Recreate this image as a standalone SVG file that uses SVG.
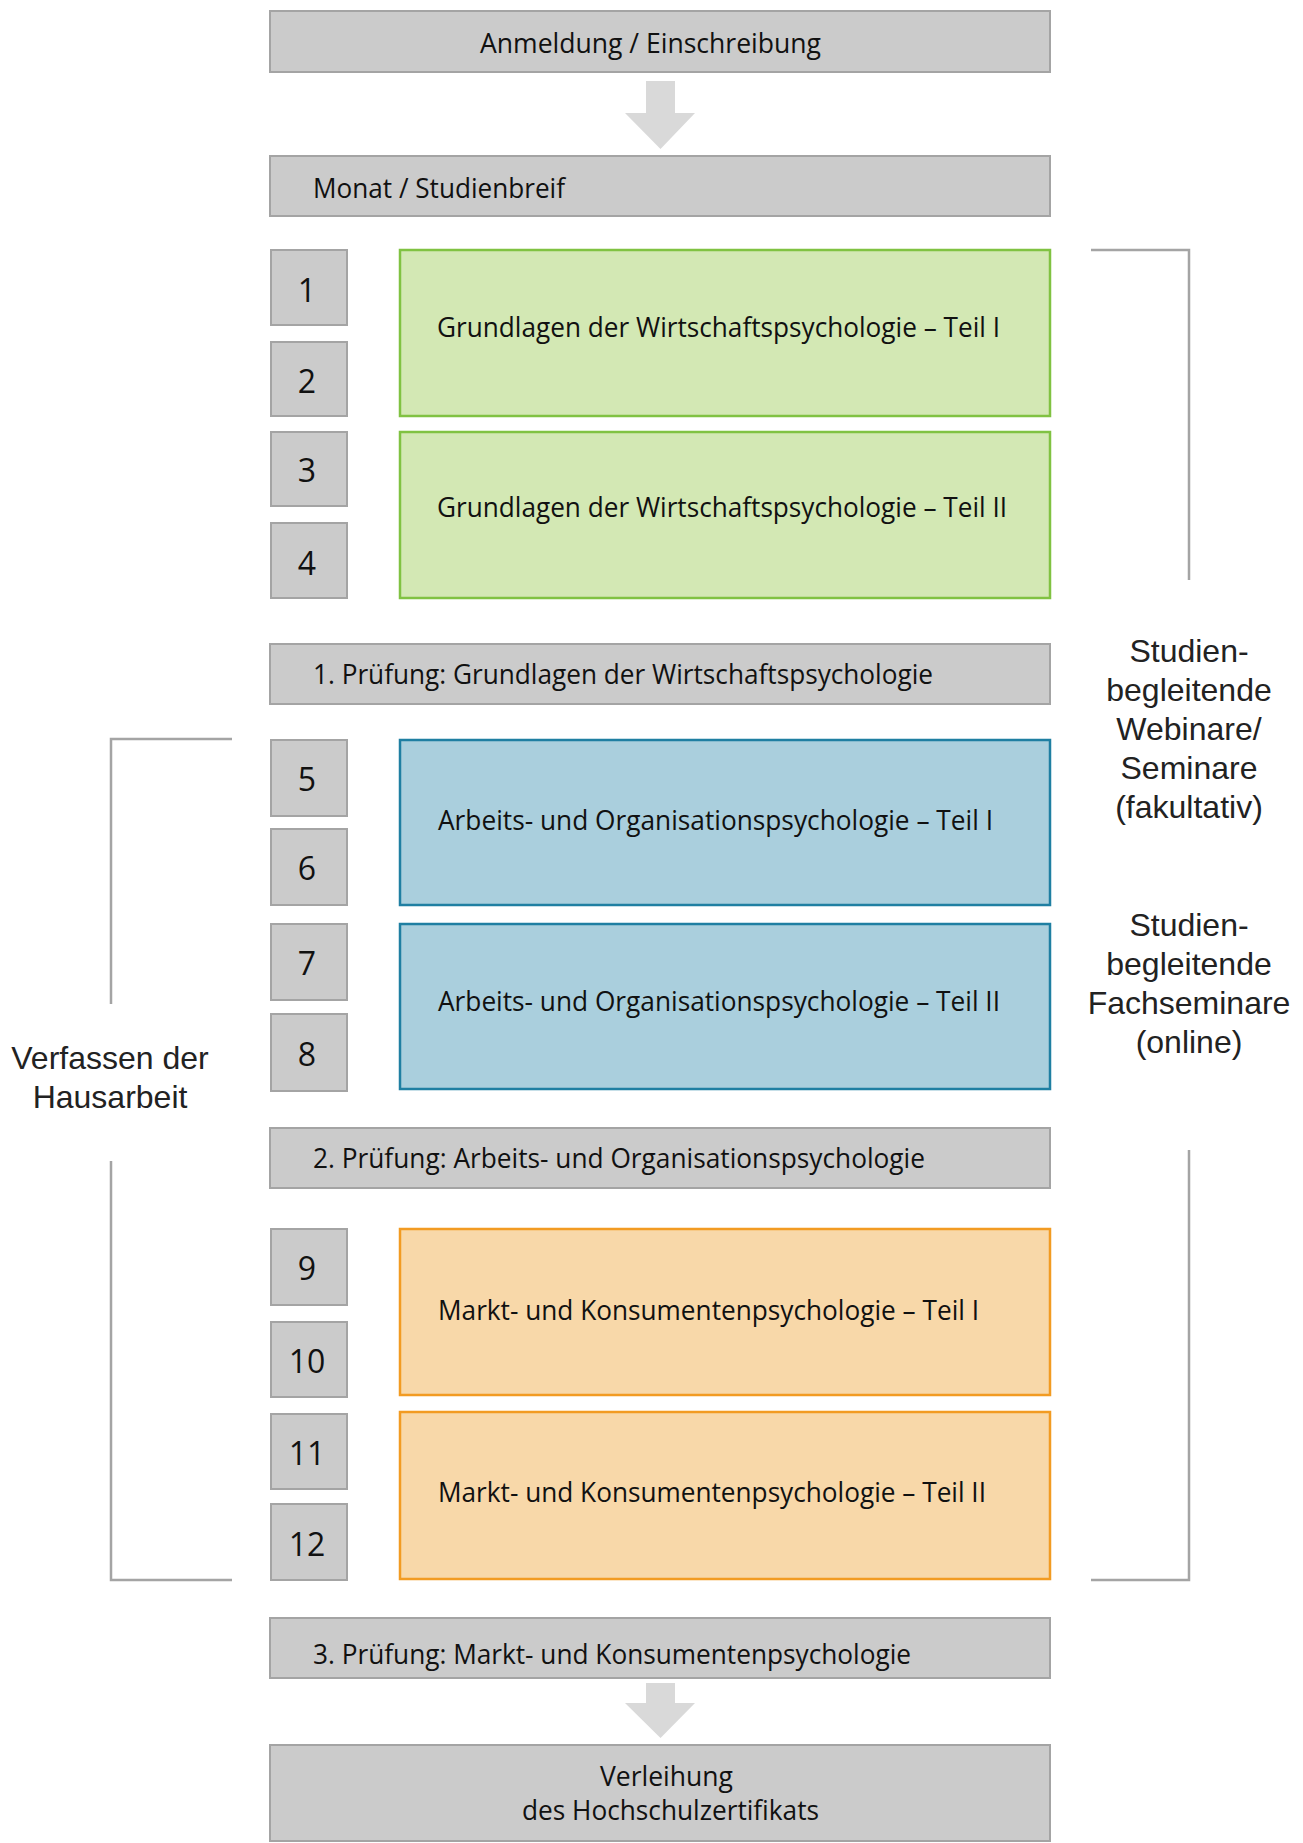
<svg xmlns="http://www.w3.org/2000/svg" width="1303" height="1843" viewBox="0 0 1303 1843">
<style>
.bg{fill:#ffffff}
.gbox{fill:#cbcbcb;stroke:#a4a4a4;stroke-width:2}
.green{fill:#d3e8b4;stroke:#80c242;stroke-width:2.5}
.blue{fill:#aacfdd;stroke:#1f7fa2;stroke-width:2.5}
.orange{fill:#f8d8a9;stroke:#f29b22;stroke-width:2.5}
.t{font-family:"Open Sans","Noto Sans",sans-serif;font-size:28px;fill:#111111}
.num{font-family:"Open Sans","Noto Sans",sans-serif;font-size:32px;fill:#111111;text-anchor:middle}
.lab{font-family:"Liberation Sans",Arial,sans-serif;font-size:32px;fill:#222222;text-anchor:middle}
.br{fill:none;stroke:#a4a4a4;stroke-width:2.5}
.arrow{fill:#d9d9d9}
</style>
<rect class="bg" x="0" y="0" width="1303" height="1843"/>

<g id="connectors">
  <polygon class="arrow" points="646,81 675,81 675,113 695,113 660.5,149 625,113 646,113"/>
  <polygon class="arrow" points="646,1683 675,1683 675,1703 695,1703 660.5,1738 625,1703 646,1703"/>
  <polyline class="br" points="1091,250 1189,250 1189,580"/>
  <polyline class="br" points="1189,1150 1189,1580 1091,1580"/>
  <polyline class="br" points="232,739 111,739 111,1004"/>
  <polyline class="br" points="111,1161 111,1580 232,1580"/>
</g>

<g id="anmeldung"><rect class="gbox" x="270" y="11" width="780" height="61"/><text class="t" x="480" y="53" textLength="341" lengthAdjust="spacingAndGlyphs">Anmeldung / Einschreibung</text></g>
<g id="monat"><rect class="gbox" x="270" y="156" width="780" height="60"/><text class="t" x="313" y="198" textLength="252" lengthAdjust="spacingAndGlyphs">Monat / Studienbreif</text></g>

<g id="m1"><rect class="gbox" x="271" y="250" width="76" height="75"/><text class="num" x="307" y="302">1</text></g>
<g id="m2"><rect class="gbox" x="271" y="342" width="76" height="74"/><text class="num" x="307" y="393">2</text></g>
<g id="m3"><rect class="gbox" x="271" y="432" width="76" height="74"/><text class="num" x="307" y="482">3</text></g>
<g id="m4"><rect class="gbox" x="271" y="523" width="76" height="75"/><text class="num" x="307" y="575">4</text></g>
<g id="m5"><rect class="gbox" x="271" y="740" width="76" height="76"/><text class="num" x="307" y="791">5</text></g>
<g id="m6"><rect class="gbox" x="271" y="829" width="76" height="76"/><text class="num" x="307" y="880">6</text></g>
<g id="m7"><rect class="gbox" x="271" y="924" width="76" height="76"/><text class="num" x="307" y="975">7</text></g>
<g id="m8"><rect class="gbox" x="271" y="1014" width="76" height="77"/><text class="num" x="307" y="1066">8</text></g>
<g id="m9"><rect class="gbox" x="271" y="1229" width="76" height="76"/><text class="num" x="307" y="1280">9</text></g>
<g id="m10"><rect class="gbox" x="271" y="1322" width="76" height="75"/><text class="num" x="307" y="1373">10</text></g>
<g id="m11"><rect class="gbox" x="271" y="1414" width="76" height="75"/><text class="num" x="307" y="1465">11</text></g>
<g id="m12"><rect class="gbox" x="271" y="1504" width="76" height="76"/><text class="num" x="307" y="1556">12</text></g>

<g id="grund1"><rect class="green" x="400" y="250" width="650" height="166"/><text class="t" x="437" y="337" textLength="563" lengthAdjust="spacingAndGlyphs">Grundlagen der Wirtschaftspsychologie – Teil I</text></g>
<g id="grund2"><rect class="green" x="400" y="432" width="650" height="166"/><text class="t" x="437" y="517" textLength="570" lengthAdjust="spacingAndGlyphs">Grundlagen der Wirtschaftspsychologie – Teil II</text></g>
<g id="pruef1"><rect class="gbox" x="270" y="644" width="780" height="60"/><text class="t" x="313" y="684" textLength="620" lengthAdjust="spacingAndGlyphs">1. Prüfung: Grundlagen der Wirtschaftspsychologie</text></g>
<g id="arbeit1"><rect class="blue" x="400" y="740" width="650" height="165"/><text class="t" x="438" y="830" textLength="555" lengthAdjust="spacingAndGlyphs">Arbeits- und Organisationspsychologie – Teil I</text></g>
<g id="arbeit2"><rect class="blue" x="400" y="924" width="650" height="165"/><text class="t" x="438" y="1011" textLength="562" lengthAdjust="spacingAndGlyphs">Arbeits- und Organisationspsychologie – Teil II</text></g>
<g id="pruef2"><rect class="gbox" x="270" y="1128" width="780" height="60"/><text class="t" x="313" y="1168" textLength="612" lengthAdjust="spacingAndGlyphs">2. Prüfung: Arbeits- und Organisationspsychologie</text></g>
<g id="markt1"><rect class="orange" x="400" y="1229" width="650" height="166"/><text class="t" x="438" y="1320" textLength="541" lengthAdjust="spacingAndGlyphs">Markt- und Konsumentenpsychologie – Teil I</text></g>
<g id="markt2"><rect class="orange" x="400" y="1412" width="650" height="167"/><text class="t" x="438" y="1502" textLength="548" lengthAdjust="spacingAndGlyphs">Markt- und Konsumentenpsychologie – Teil II</text></g>
<g id="pruef3"><rect class="gbox" x="270" y="1618" width="780" height="60"/><text class="t" x="313" y="1664" textLength="598" lengthAdjust="spacingAndGlyphs">3. Prüfung: Markt- und Konsumentenpsychologie</text></g>
<g id="verleihung"><rect class="gbox" x="270" y="1745" width="780" height="96"/><text class="t" x="600" y="1786" textLength="133" lengthAdjust="spacingAndGlyphs">Verleihung</text><text class="t" x="522" y="1820" textLength="297" lengthAdjust="spacingAndGlyphs">des Hochschulzertifikats</text></g>

<g id="webinare"><text class="lab" x="1189" y="662">Studien-</text><text class="lab" x="1189" y="701">begleitende</text><text class="lab" x="1189" y="740">Webinare/</text><text class="lab" x="1189" y="779">Seminare</text><text class="lab" x="1189" y="818">(fakultativ)</text></g>
<g id="fachseminare"><text class="lab" x="1189" y="936">Studien-</text><text class="lab" x="1189" y="975">begleitende</text><text class="lab" x="1189" y="1014">Fachseminare</text><text class="lab" x="1189" y="1053">(online)</text></g>
<g id="hausarbeit"><text class="lab" x="110" y="1069">Verfassen der</text><text class="lab" x="110" y="1108">Hausarbeit</text></g>
</svg>
